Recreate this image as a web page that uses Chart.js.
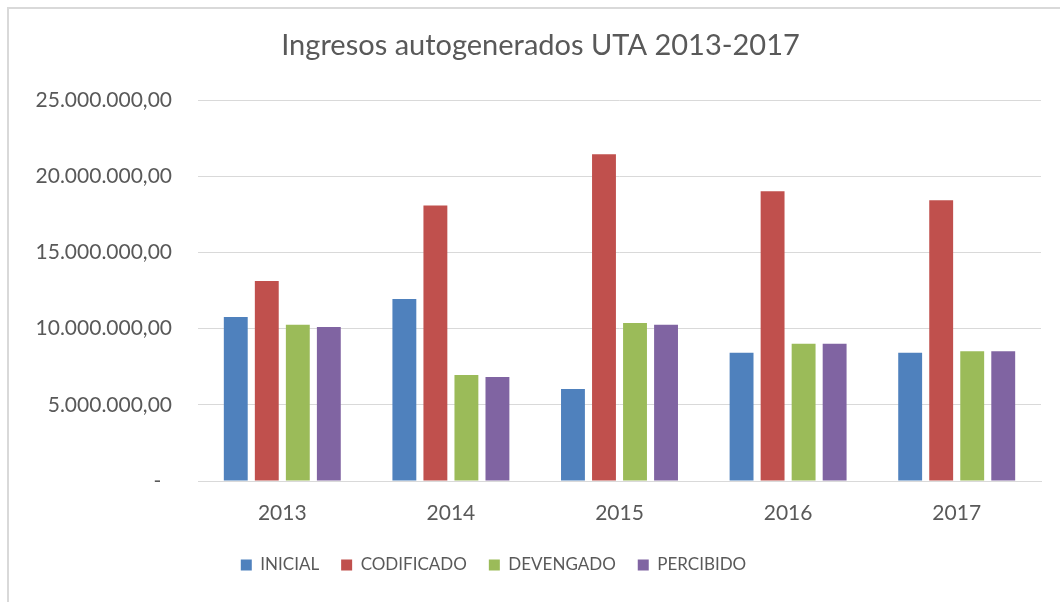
<!DOCTYPE html>
<html>
<head>
<meta charset="utf-8">
<script src="https://cdn.jsdelivr.net/npm/chart.js@4/dist/chart.umd.min.js"></script>
<style>
html,body{margin:0;padding:0;background:#fff;}
#wrap{position:relative;width:1060px;height:602px;}
</style>
</head>
<body>
<div id="wrap"><canvas id="c" width="1060" height="602"></canvas></div>
<script>
const categories = ['2013', '2014', '2015', '2016', '2017'];
const seriesNames = ['INICIAL', 'CODIFICADO', 'DEVENGADO', 'PERCIBIDO'];
const inicial    = [10760000, 11940000,  6040000,  8420000,  8420000];
const codificado = [13120000, 18070000, 21440000, 19020000, 18430000];
const devengado  = [10260000,  6960000, 10370000,  9010000,  8510000];
const percibido  = [10100000,  6830000, 10260000,  9010000,  8510000];
const yTicks = [0, 5000000, 10000000, 15000000, 20000000, 25000000];
const colors = ['#4F81BD', '#C0504D', '#9BBB59', '#8064A2'];

const FONT = 'Lato, "Open Sans", sans-serif';
const TEXT = '#595959';

function fmt(v) {
  if (v === 0) return '-  ';
  const s = Math.round(v).toString().replace(/\B(?=(\d{3})+(?!\d))/g, '.');
  return s + ',00';
}

const frame = {
  id: 'frame',
  beforeDraw(chart) {
    const ctx = chart.ctx;
    ctx.save();
    ctx.fillStyle = '#ffffff';
    ctx.fillRect(0, 0, chart.width, chart.height);
    ctx.strokeStyle = '#d9d9d9';
    ctx.lineWidth = 2;
    ctx.beginPath();
    ctx.moveTo(8, 602);
    ctx.lineTo(8, 8);
    ctx.lineTo(1060, 8);
    ctx.stroke();
    ctx.restore();
  },
  afterLayout(chart) {
    if (chart.legend) { chart.legend.left -= 27; chart.legend.right -= 27; }
    if (chart.titleBlock) { chart.titleBlock.left += 20; chart.titleBlock.right += 20; }
  }
};

const dataSets = [inicial, codificado, devengado, percibido].map((d, i) => ({
  label: seriesNames[i],
  data: d,
  backgroundColor: colors[i],
  borderWidth: 0,
  categoryPercentage: 0.736,
  barPercentage: 0.77
}));

new Chart(document.getElementById('c'), {
  type: 'bar',
  data: { labels: categories, datasets: dataSets },
  plugins: [frame],
  options: {
    responsive: false,
    animation: false,
    devicePixelRatio: 1,
    layout: { padding: { top: 0, left: 0, right: 19, bottom: 18.5 } },
    plugins: {
      title: {
        display: true,
        text: 'Ingresos autogenerados UTA 2013-2017',
        color: TEXT,
        font: { family: FONT, size: 29, weight: 'normal' },
        padding: { top: 28.6, bottom: 36.6 }
      },
      legend: {
        position: 'bottom',
        labels: {
          color: TEXT,
          font: { family: FONT, size: 17 },
          boxWidth: 11,
          boxHeight: 11,
          padding: 22
        }
      },
      tooltip: { enabled: false }
    },
    scales: {
      x: {
        grid: { display: false, drawTicks: false },
        border: { display: true, color: '#d9d9d9', width: 1 },
        ticks: { color: TEXT, font: { family: FONT, size: 21 }, padding: 20 },
        afterFit(s) { s.height = 53.5; }
      },
      y: {
        min: 0,
        max: 25000000,
        afterBuildTicks(s) { s.ticks = yTicks.map(v => ({ value: v })); },
        grid: { color: '#d9d9d9', lineWidth: 1, drawTicks: false },
        border: { display: false },
        ticks: {
          color: TEXT,
          font: { family: FONT, size: 21 },
          padding: 26,
          callback: (v) => fmt(v)
        },
        afterFit(s) { s.width = 198; }
      }
    }
  }
});
</script>
</body>
</html>
